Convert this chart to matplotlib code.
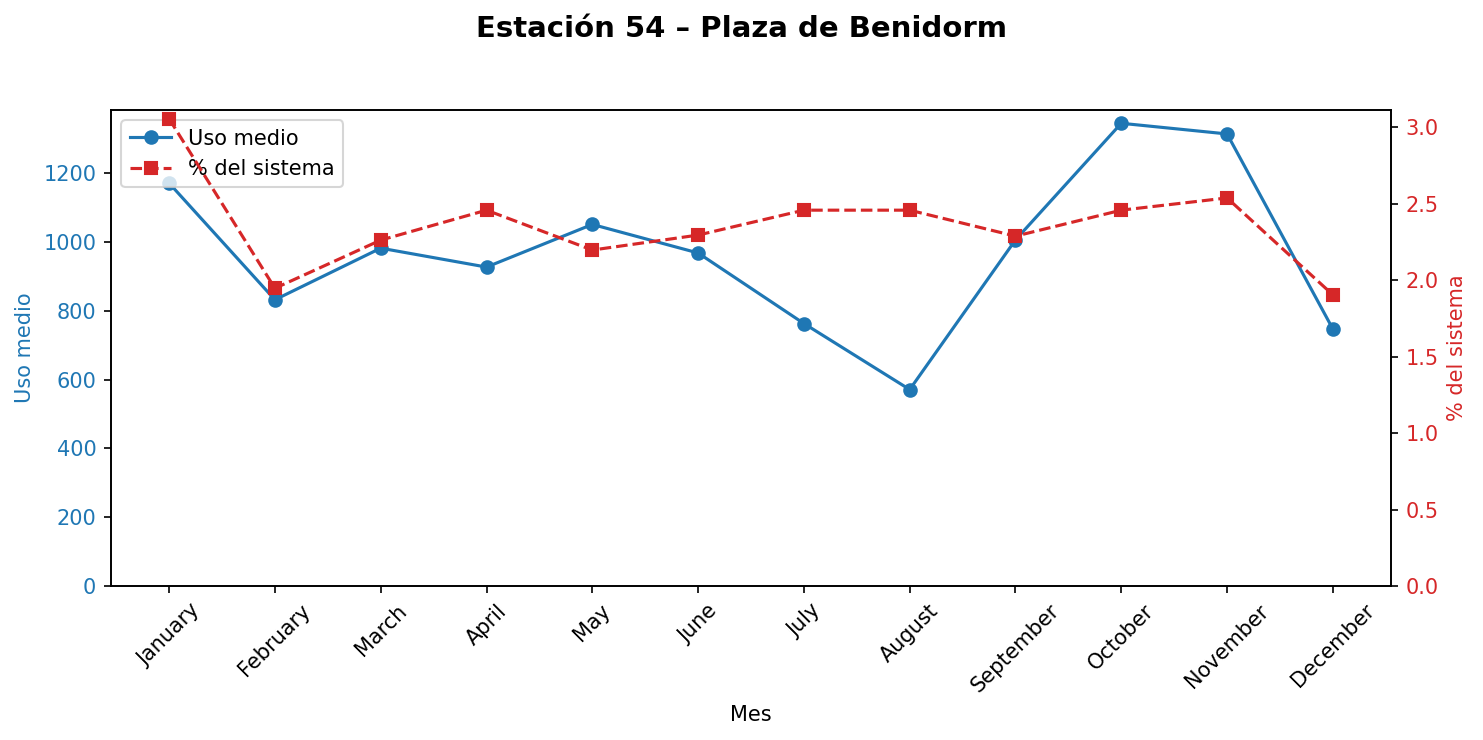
import matplotlib
matplotlib.use("Agg")
import matplotlib.pyplot as plt

meses = ["January", "February", "March", "April", "May", "June", "July",
         "August", "September", "October", "November", "December"]
uso_medio = [1171, 832, 982, 927, 1051, 968, 763, 571, 1006, 1345, 1314, 747]
pct_sistema = [3.057, 1.948, 2.263, 2.459, 2.198, 2.296, 2.459, 2.459,
               2.289, 2.459, 2.539, 1.905]

fig, ax1 = plt.subplots(figsize=(1483 / 150, 740 / 150), dpi=150)
fig.subplots_adjust(left=0.0748, right=0.938, top=0.8514, bottom=0.2081)

l1, = ax1.plot(meses, uso_medio, marker="o", color="tab:blue", label="Uso medio")
ax1.set_ylabel("Uso medio", color="tab:blue")
ax1.tick_params(axis="y", labelcolor="tab:blue")
ax1.set_xlabel("Mes")
ax1.set_ylim(bottom=0)
plt.setp(ax1.get_xticklabels(), rotation=45)

ax2 = ax1.twinx()
l2, = ax2.plot(meses, pct_sistema, marker="s", linestyle="--", color="tab:red",
               label="% del sistema")
ax2.set_ylabel("% del sistema", color="tab:red")
ax2.tick_params(axis="y", labelcolor="tab:red")
ax2.set_ylim(bottom=0)

ax1.legend([l1, l2], [l1.get_label(), l2.get_label()], loc="upper left")
fig.suptitle("Estación 54 – Plaza de Benidorm", fontsize=14, fontweight="bold")

fig.savefig("out.png", dpi=150)
